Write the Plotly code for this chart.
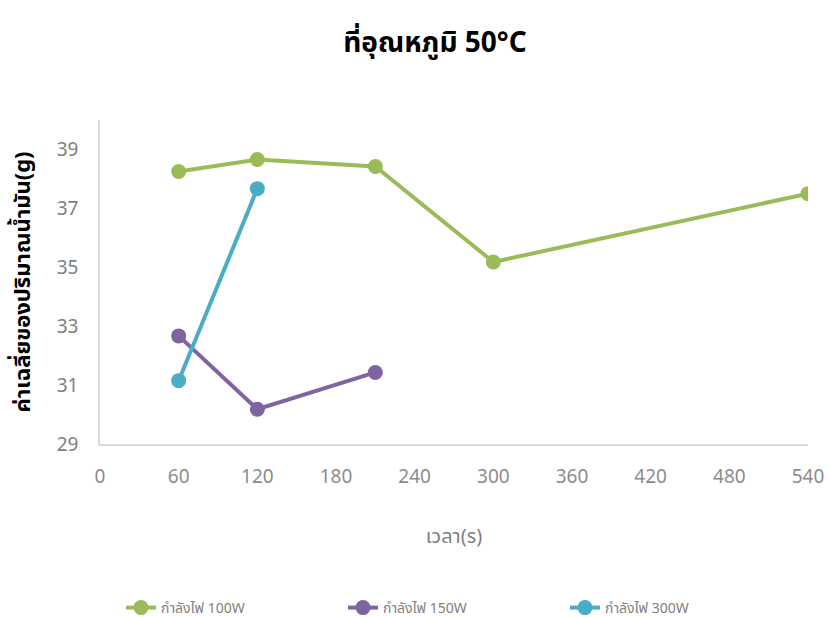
import plotly.graph_objects as go

# ---- data ----
series_names = ["กำลังไฟ 100W", "กำลังไฟ 150W", "กำลังไฟ 300W"]
x_100w = [60, 120, 210, 300, 540]
y_100w = [38.25, 38.66, 38.42, 35.18, 37.50]
x_150w = [60, 120, 210]
y_150w = [32.67, 30.18, 31.43]
x_300w = [60, 120]
y_300w = [31.15, 37.67]
colors = ["#9BBB59", "#8064A2", "#4BACC6"]

x_ticks = [0, 60, 120, 180, 240, 300, 360, 420, 480, 540]
y_ticks = [29, 31, 33, 35, 37, 39]

title_text = "ที่อุณหภูมิ 50°C"
x_title = "เวลา(s)"
y_title = "ค่าเฉลี่ยของปริมาณน้ำมัน(g)"

FONT = "Noto Sans, Noto Sans Thai, DejaVu Sans, sans-serif"

legend_ids = ["legend", "legend2", "legend3"]
legend_x_px = [121, 343, 565]

fig = go.Figure()
for name, xs, ys, c, lid in zip(series_names, [x_100w, x_150w, x_300w],
                                [y_100w, y_150w, y_300w], colors, legend_ids):
    fig.add_trace(go.Scatter(
        x=xs, y=ys, name=name, mode="lines+markers",
        line=dict(color=c, width=4),
        marker=dict(color=c, size=15),
        legend=lid,
    ))

legend_common = dict(orientation="h", xref="container", yref="container",
                     xanchor="left", y=(617 - 608) / 617, yanchor="middle",
                     font=dict(size=14, color="#808080"),
                     bgcolor="rgba(0,0,0,0)")

fig.update_layout(
    width=829, height=617,
    paper_bgcolor="white", plot_bgcolor="white",
    margin=dict(l=100, r=21, t=120, b=173, autoexpand=False),
    font=dict(family=FONT, color="#595959"),
    title=dict(text="<b>" + title_text + "</b>", x=435 / 829, xanchor="center",
               xref="container", yref="container",
               y=1 - 42 / 617, yanchor="middle",
               font=dict(size=28, color="#000000", family=FONT)),
    showlegend=True,
    legend=dict(x=legend_x_px[0] / 829, **legend_common),
    legend2=dict(x=legend_x_px[1] / 829, **legend_common),
    legend3=dict(x=legend_x_px[2] / 829, **legend_common),
)

fig.update_xaxes(
    range=[0, 540], tickvals=x_ticks, ticktext=[str(v) for v in x_ticks],
    automargin=False,
    showgrid=False, zeroline=False, showline=True, linecolor="#d9d9d9", linewidth=1.5,
    ticks="", tickfont=dict(size=19, color="#8c8c8c"), ticklabelstandoff=14,
    title=dict(text=x_title, font=dict(size=20, color="#7f7f7f"), standoff=41),
)
fig.update_yaxes(
    range=[29, 40], tickvals=y_ticks, ticktext=[str(v) for v in y_ticks],
    automargin=False,
    showgrid=False, zeroline=False, showline=True, linecolor="#d9d9d9", linewidth=1.5,
    ticks="", tickfont=dict(size=19, color="#7f7f7f"), ticklabelstandoff=16,
    title=dict(text="<b>" + y_title + "</b>", font=dict(size=22, color="#000000"), standoff=20),
)

fig.write_html("out.html")
